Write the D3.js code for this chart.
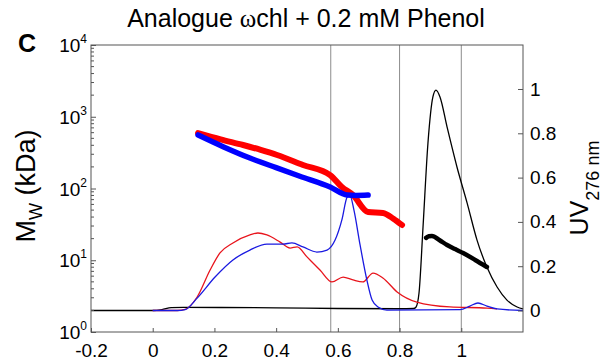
<!DOCTYPE html>
<html>
<head>
<meta charset="utf-8">
<script src="https://cdn.jsdelivr.net/npm/d3@7"></script>
<style>
  body { margin: 0; background: #fff; }
  svg { font-family: Arial, "Liberation Sans", sans-serif; }
</style>
</head>
<body>
<svg id="chart" width="604" height="361"></svg>
<script>
// ---- data ----
// thick lines, molar mass (left log axis)
const mwRedX = [0.147, 0.22, 0.293, 0.35, 0.403, 0.487, 0.575, 0.613, 0.649, 0.698, 0.746, 0.78, 0.808];
const mwRedY = [593, 485, 404, 345, 293, 213, 154, 105, 81, 47, 45.6, 38, 31];
const mwBlueX = [0.147, 0.23, 0.315, 0.4, 0.477, 0.575, 0.63, 0.66, 0.698];
const mwBlueY = [557, 380, 266, 195, 148, 105, 81, 80, 81];
const mwBlackX = [0.886, 0.895, 0.905, 0.93, 0.954, 0.98, 1.006, 1.045, 1.083];
const mwBlackY = [20.5, 21.6, 21.8, 19, 16.3, 14.3, 12.6, 10.1, 8.05];

// thin lines, UV 276 nm (right axis)
const uvRedX = [0.0, 0.08, 0.105, 0.144, 0.186, 0.218, 0.26, 0.315, 0.341, 0.37, 0.413, 0.445, 0.468, 0.5, 0.542, 0.581, 0.617, 0.649, 0.681, 0.714, 0.746, 0.792, 0.856, 0.963, 1.083, 1.116];
const uvRedY = [0.0, 0.0, 0.005, 0.061, 0.183, 0.26, 0.305, 0.341, 0.35, 0.341, 0.309, 0.282, 0.287, 0.242, 0.183, 0.129, 0.151, 0.138, 0.129, 0.169, 0.147, 0.084, 0.038, 0.016, 0.011, 0.007];
const uvBlueX = [0.0, 0.08, 0.105, 0.144, 0.202, 0.26, 0.315, 0.37, 0.422, 0.451, 0.487, 0.532, 0.565, 0.591, 0.613, 0.63, 0.639, 0.652, 0.672, 0.694, 0.711, 0.73, 0.759, 0.996, 1.028, 1.054, 1.083, 1.116, 1.2];
const uvBlueY = [0.0, 0.0, 0.004, 0.056, 0.151, 0.228, 0.273, 0.3, 0.3, 0.305, 0.287, 0.264, 0.273, 0.318, 0.409, 0.512, 0.521, 0.454, 0.296, 0.138, 0.047, 0.016, 0.002, 0.004, 0.02, 0.034, 0.02, 0.007, 0.0];
const uvBlackX = [-0.2, 0.0, 0.03, 0.06, 0.1, 0.4, 0.6, 0.8, 0.845, 0.853, 0.863, 0.876, 0.892, 0.908, 0.918, 0.931, 0.954, 0.986, 1.019, 1.051, 1.083, 1.116, 1.148, 1.181, 1.2];
const uvBlackY = [0.0, 0.0, 0.004, 0.013, 0.014, 0.012, 0.009, 0.008, 0.009, 0.015, 0.079, 0.377, 0.756, 0.964, 0.995, 0.964, 0.828, 0.648, 0.485, 0.318, 0.196, 0.106, 0.047, 0.016, 0.007];

// reference lines and ticks
const refLines = [0.577, 0.8, 1.0];
const xTicks = [-0.2, 0, 0.2, 0.4, 0.6, 0.8, 1];
const xTickLabels = ['-0.2', '0', '0.2', '0.4', '0.6', '0.8', '1'];
const yLeftTicks = [1, 10, 100, 1000, 10000];
const yRightTicks = [0, 0.2, 0.4, 0.6, 0.8, 1];
const yRightTickLabels = ['0', '0.2', '0.4', '0.6', '0.8', '1'];

const svg = d3.select('#chart');
const pLeft = 91, pRight = 523, pTop = 45, pBottom = 332;
const labelFont = 'Arial, "Liberation Sans", sans-serif';

const x = d3.scaleLinear().domain([-0.2, 1.2]).range([pLeft, pRight]);
const yL = d3.scaleLog().domain([1, 10000]).range([pBottom, pTop]);
const yR = d3.scaleLinear().domain([-0.097, 1.1986]).range([pBottom, pTop]);

const zip = (xs, ys) => xs.map((v, i) => [v, ys[i]]);

// reference lines
svg.append('g').selectAll('line')
    .data(refLines)
    .enter().append('line')
        .attr('x1', d => x(d)).attr('x2', d => x(d))
        .attr('y1', pTop).attr('y2', pBottom)
        .attr('stroke', '#8c8c8c')
        .attr('stroke-width', 1);

// thin UV curves
const lineR = d3.line().x(d => x(d[0])).y(d => yR(d[1])).curve(d3.curveMonotoneX);
[[uvBlackX, uvBlackY, '#000'], [uvRedX, uvRedY, '#e8141c'], [uvBlueX, uvBlueY, '#1a1ae0']].forEach(function(s) {
    svg.append('path')
        .datum(zip(s[0], s[1]))
        .attr('d', lineR)
        .attr('fill', 'none')
        .attr('stroke', s[2])
        .attr('stroke-width', 1.3);
});

// thick molar mass curves
const lineL = d3.line().x(d => x(d[0])).y(d => yL(d[1])).curve(d3.curveMonotoneX);
[[mwRedX, mwRedY, '#ff0000', 6], [mwBlueX, mwBlueY, '#0000ff', 5.5], [mwBlackX, mwBlackY, '#000', 4.5]].forEach(function(s) {
    svg.append('path')
        .datum(zip(s[0], s[1]))
        .attr('d', lineL)
        .attr('fill', 'none')
        .attr('stroke', s[2])
        .attr('stroke-width', s[3])
        .attr('stroke-linecap', 'round')
        .attr('stroke-linejoin', 'round');
});

// frame
svg.append('rect')
    .attr('x', pLeft).attr('y', pTop)
    .attr('width', pRight - pLeft).attr('height', pBottom - pTop)
    .attr('fill', 'none')
    .attr('stroke', '#555')
    .attr('stroke-width', 1);

// bottom axis
const xAxis = d3.axisBottom(x)
    .tickValues(xTicks)
    .tickSizeInner(-4).tickSizeOuter(0)
    .tickPadding(12)
    .tickFormat((d, i) => xTickLabels[i]);
svg.append('g')
    .attr('transform', 'translate(0,' + pBottom + ')')
    .call(xAxis)
    .call(g => g.select('.domain').remove())
    .call(g => g.selectAll('line').attr('stroke', '#555'))
    .call(g => g.selectAll('text').attr('font-size', 19).attr('fill', '#000').attr('font-family', labelFont));

// left log axis, minor ticks inside
const minor = [];
for (let e = 0; e < 4; e++) {
    for (let m = 2; m < 10; m++) minor.push(m * Math.pow(10, e));
}
svg.append('g').selectAll('line')
    .data(minor)
    .enter().append('line')
        .attr('x1', pLeft).attr('x2', pLeft + 3)
        .attr('y1', d => yL(d)).attr('y2', d => yL(d))
        .attr('stroke', '#555');
const yAxisL = d3.axisLeft(yL)
    .tickValues(yLeftTicks)
    .tickSizeInner(-5).tickSizeOuter(0)
    .tickFormat('');
svg.append('g')
    .attr('transform', 'translate(' + pLeft + ',0)')
    .call(yAxisL)
    .call(g => g.select('.domain').remove())
    .call(g => g.selectAll('line').attr('stroke', '#555'));
const yLab = svg.append('g').selectAll('text')
    .data(yLeftTicks)
    .enter().append('text')
        .attr('x', 87)
        .attr('y', d => yL(d) + 7)
        .attr('text-anchor', 'end')
        .attr('font-size', 19);
yLab.append('tspan').text('10');
yLab.append('tspan')
    .attr('dy', -9)
    .attr('font-size', 12)
    .text(d => Math.round(Math.log10(d)));

// right axis
const yAxisR = d3.axisRight(yR)
    .tickValues(yRightTicks)
    .tickSizeInner(-5).tickSizeOuter(0)
    .tickPadding(7)
    .tickFormat((d, i) => yRightTickLabels[i]);
svg.append('g')
    .attr('transform', 'translate(' + pRight + ',0)')
    .call(yAxisR)
    .call(g => g.select('.domain').remove())
    .call(g => g.selectAll('line').attr('stroke', '#555'))
    .call(g => g.selectAll('text').attr('font-size', 19).attr('fill', '#000').attr('font-family', labelFont));

// titles
const title = svg.append('text')
    .attr('x', 306).attr('y', 27)
    .attr('text-anchor', 'middle')
    .attr('font-size', 25);
title.append('tspan').text('Analogue ');
title.append('tspan').attr('font-family', '"Liberation Serif", serif').text('ω');
title.append('tspan').text('chl + 0.2 mM Phenol');

svg.append('text')
    .attr('x', 18).attr('y', 52)
    .attr('font-size', 25)
    .attr('font-weight', 'bold')
    .text('C');

const yTitleL = svg.append('text')
    .attr('transform', 'translate(35,186) rotate(-90)')
    .attr('text-anchor', 'middle')
    .attr('font-size', 27);
yTitleL.append('tspan').text('M');
yTitleL.append('tspan').attr('dy', 7).attr('font-size', 18).text('W');
yTitleL.append('tspan').attr('dy', -7).text(' (kDa)');

const yTitleR = svg.append('text')
    .attr('transform', 'translate(588,188) rotate(-90)')
    .attr('text-anchor', 'middle')
    .attr('font-size', 25);
yTitleR.append('tspan').text('UV');
yTitleR.append('tspan').attr('dy', 11).attr('font-size', 18).text('276 nm');
</script>
</body>
</html>
